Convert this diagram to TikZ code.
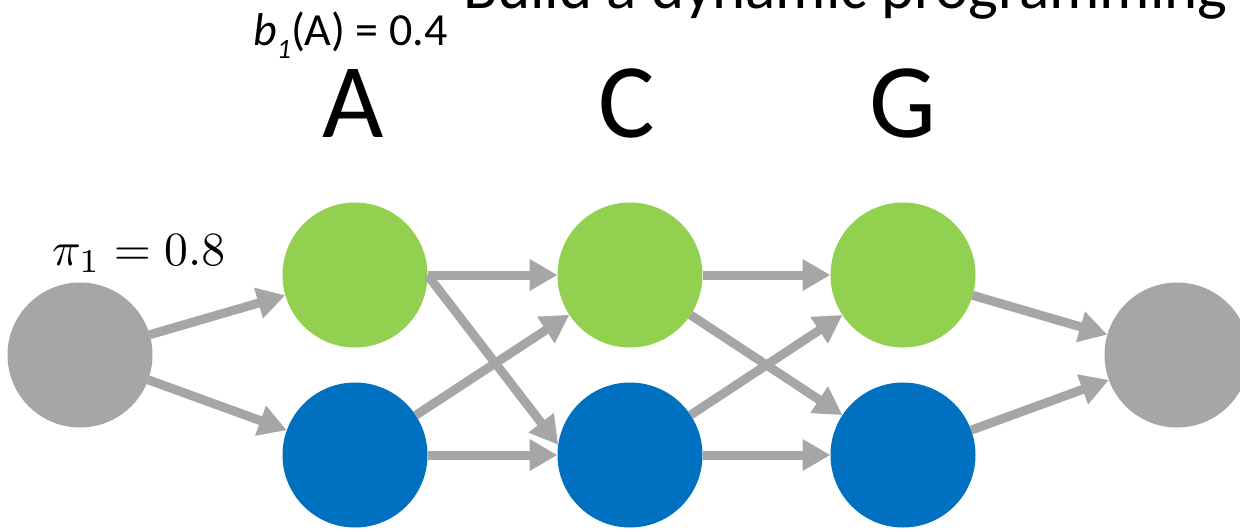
\documentclass[tikz,border=0pt]{standalone}
\usepackage{fontspec}
\setmainfont{Carlito}
\usetikzlibrary{arrows.meta}
\definecolor{cgray}{HTML}{A6A6A6}
\definecolor{cgreen}{HTML}{92D050}
\definecolor{cblue}{HTML}{0070C0}
\begin{document}
\begin{tikzpicture}[x=1pt,y=-1pt,
  state/.style={circle,minimum size=145pt,inner sep=0pt,outer sep=0pt},
  grayst/.style={state,fill=cgray},
  greenst/.style={state,fill=cgreen},
  bluest/.style={state,fill=cblue},
  link/.style={draw=cgray,line width=9pt,-{Triangle[length=28pt,width=30pt]}},
  big/.style={font=\fontsize{106}{120}\selectfont,anchor=base,inner sep=0pt},
  txt/.style={anchor=base west,inner sep=0pt}]
\useasboundingbox (0,0) rectangle (1240,528);
\clip (0,0) rectangle (1240,528);

\node[txt,font=\fontsize{63}{70}\selectfont] (title) at (463,8) {Build a dynamic programming};
\node[txt,font=\fontsize{46}{50}\selectfont] (b1) at (253,45) {\textit{b}\raisebox{-13pt}{\fontsize{28}{30}\selectfont\itshape 1}(A) = 0.4};
\node[txt] (pi) at (52,265) {\resizebox{173pt}{!}{$\pi_1 = 0.8$}};

\node[big] (lA) at (353,137) {A};
\node[big] (lC) at (627,137) {C};
\node[big] (lG) at (903,137) {G};

\node[grayst] (S) at (80,355) {};
\node[greenst] (gA) at (355,275) {};
\node[bluest] (bA) at (355,455) {};
\node[greenst] (gC) at (630,275) {};
\node[bluest] (bC) at (630,455) {};
\node[greenst] (gG) at (903,275) {};
\node[bluest] (bG) at (903,455) {};
\node[grayst] (E) at (1177,355) {};

\draw[link] (S) -- (gA);
\draw[link] (S) -- (bA);
\draw[link] (gA) -- (gC);
\draw[link] (gA.east) -- (bC.172);
\draw[link] (bA) -- (gC);
\draw[link] (bA) -- (bC);
\draw[link] (gC) -- (gG);
\draw[link] (gC) -- (bG);
\draw[link] (bC) -- (gG);
\draw[link] (bC) -- (bG);
\draw[link] (gG) -- (E);
\draw[link] (bG) -- (E);
\end{tikzpicture}
\end{document}
